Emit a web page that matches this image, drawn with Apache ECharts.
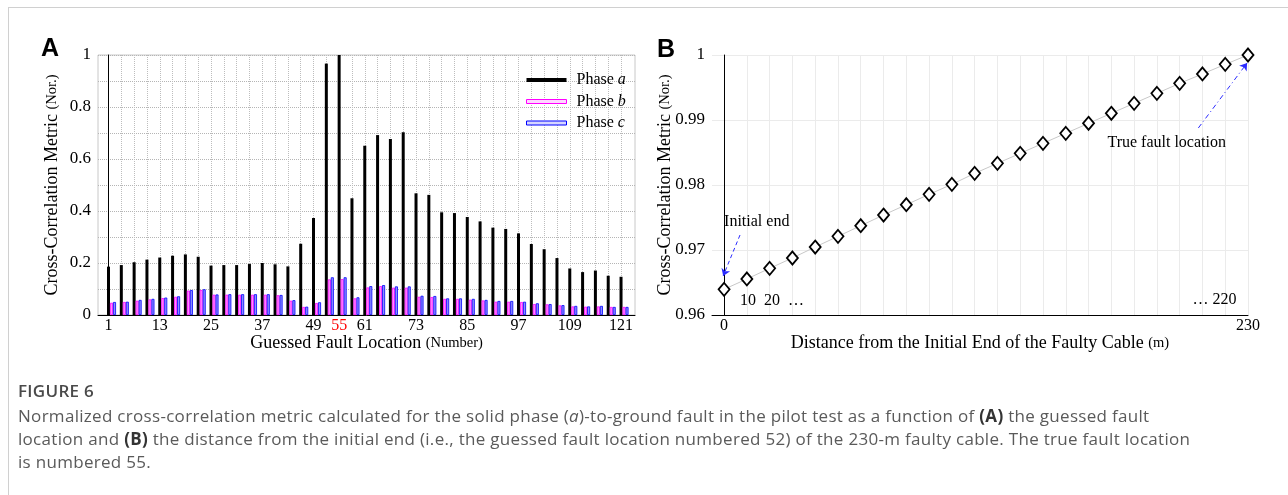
<!DOCTYPE html>
<html><head><meta charset="utf-8">
<script src="https://cdn.jsdelivr.net/npm/echarts@6/dist/echarts.min.js"></script>
<style>
html,body{margin:0;padding:0;background:#fff;width:1288px;height:495px;overflow:hidden;position:relative;}
#frame{position:absolute;left:8px;top:7px;width:1300px;height:500px;border-left:1px solid #d0d0d0;border-top:1px solid #d0d0d0;}
#chart{position:absolute;left:0;top:0;width:1288px;height:495px;}
#cap{position:absolute;left:18px;top:380px;font-family:'Open Sans',sans-serif;color:#5a5a5a;white-space:nowrap;}
#cap .t{font-size:17px;font-weight:600;line-height:22px;color:#4a4a4a;letter-spacing:0.3px;}
#cap .b{font-size:17px;line-height:23px;margin-top:2px;letter-spacing:0.3px;}
#cap b{font-weight:700;color:#333;}
</style></head>
<body>
<div id="frame"></div>
<div id="chart"></div>
<div id="cap">
<div class="t">FIGURE 6</div>
<div class="b">Normalized cross-correlation metric calculated for the solid phase (<i>a</i>)-to-ground fault in the pilot test as a function of <b>(A)</b> the guessed fault<br>location and <b>(B)</b> the distance from the initial end (i.e., the guessed fault location numbered 52) of the 230-m faulty cable. The true fault location<br>is numbered 55.</div>
</div>
<script>
// ---- Panel A data ----
const locations = [1,4,7,10,13,16,19,22,25,28,31,34,37,40,43,46,49,52,55,58,61,64,67,70,73,76,79,82,85,88,91,94,97,100,103,106,109,112,115,118,121];
const phaseA = [0.186,0.192,0.203,0.213,0.221,0.228,0.233,0.224,0.190,0.192,0.192,0.196,0.200,0.195,0.187,0.274,0.373,0.967,1.000,0.449,0.651,0.692,0.677,0.703,0.468,0.462,0.395,0.392,0.377,0.360,0.336,0.331,0.314,0.273,0.253,0.219,0.179,0.165,0.171,0.151,0.147];
const phaseB = [0.047,0.050,0.055,0.060,0.065,0.070,0.094,0.096,0.078,0.078,0.078,0.078,0.078,0.076,0.055,0.031,0.046,0.137,0.138,0.064,0.106,0.111,0.105,0.105,0.070,0.069,0.062,0.062,0.059,0.056,0.051,0.051,0.050,0.042,0.041,0.037,0.033,0.032,0.033,0.031,0.031];
const phaseC = [0.050,0.051,0.058,0.062,0.067,0.072,0.096,0.099,0.079,0.080,0.080,0.080,0.080,0.077,0.057,0.032,0.049,0.145,0.145,0.068,0.111,0.115,0.110,0.110,0.074,0.073,0.064,0.064,0.062,0.058,0.054,0.054,0.051,0.045,0.042,0.038,0.035,0.033,0.035,0.031,0.031];
const labelledLocations = [1,13,25,37,49,55,61,73,85,97,109,121];
const highlightLocation = 55;
const yTicksA = [0,0.2,0.4,0.6,0.8,1];
// ---- Panel B data ----
const distances = [0,10,20,30,40,50,60,70,80,90,100,110,120,130,140,150,160,170,180,190,200,210,220,230];
const metricB = [0.96395,0.96554,0.96718,0.96877,0.97046,0.97210,0.97374,0.97538,0.97697,0.97856,0.98010,0.98179,0.98333,0.98487,0.98641,0.98795,0.98949,0.99103,0.99256,0.99410,0.99564,0.99708,0.99856,1.00000];
const xLabelsB = [0,230];

const serif = "'Liberation Serif','Times New Roman',serif";
const idx = locations.map((_, i) => i);
const labelIdx = labelledLocations.map(n => locations.indexOf(n));

const chart = echarts.init(document.getElementById('chart'), null, {renderer:'canvas'});

const barItem = (fill, border) => ({color: fill, borderColor: border || fill, borderWidth: border ? 0.8 : 0});
const nameRich = {a: {fontFamily: serif, fontSize: 18, color:'#000'}, b: {fontFamily: serif, fontSize: 14.5, color:'#000'}};

const option = {
  animation: false,
  backgroundColor: 'transparent',
  textStyle: {fontFamily: serif},
  graphic: [
    {type:'text', x:41, y:49, style:{text:'A', font:"bold 25px 'Liberation Sans'", fill:'#000', verticalAlign:'middle'}},
    {type:'text', x:657, y:50, style:{text:'B', font:"bold 25px 'Liberation Sans'", fill:'#000', verticalAlign:'middle'}}
  ],
  legend: {
    orient: 'vertical', left: 521, top: 67, itemWidth: 40, itemHeight: 4, itemGap: 5.5,
    icon: 'rect',
    data: [
      {name:'Phase a', itemStyle:{color:'#000', borderWidth:0}},
      {name:'Phase b', itemStyle:{color:'#ffd6ff', borderColor:'#ff00ff', borderWidth:1}},
      {name:'Phase c', itemStyle:{color:'#d6d6ff', borderColor:'#0000ff', borderWidth:1}}
    ],
    formatter: n => '{t|Phase }{i|' + n.slice(-1) + '}',
    textStyle: {
      rich: {
        t: {fontFamily: serif, fontSize: 16, color:'#000', padding:[0,0,0,5]},
        i: {fontFamily: serif, fontSize: 16, color:'#000', fontStyle:'italic'}
      }
    }
  },
  grid: [
    {left: 98, right: 653, top: 55, bottom: 180, show: true, borderColor: '#c8c8c8', borderWidth: 1, backgroundColor:'transparent'},
    {left: 712, right: 40, top: 55, bottom: 180}
  ],
  xAxis: [
    {
      type: 'value', gridIndex: 0, min: -0.82, max: 41.09,
      axisLine: {onZero: false, lineStyle: {color: '#000', width: 1}},
      axisTick: {show: false, customValues: idx},
      axisLabel: {
        margin: 3, fontFamily: serif, fontSize: 16, color: '#000',
        customValues: labelIdx,
        formatter: v => {
          const n = locations[Math.round(v)];
          return n === highlightLocation ? '{r|' + n + '}' : String(n);
        },
        rich: {r: {color: '#ff0000', fontFamily: serif, fontSize: 16}}
      },
      splitLine: {show: true, lineStyle: {color: '#bdbdbd', type: 'dotted', width: 1}},
      name: '{a|Guessed Fault Location }{b|(Number)}',
      nameLocation: 'middle', nameGap: 19, nameMoveOverlap: false,
      nameTextStyle: {rich: nameRich}
    },
    {type: 'value', gridIndex: 0, min: -1.054, max: 40.856, show: false},
    {
      type: 'value', gridIndex: 1, min: -5.3, max: 230,
      axisLine: {onZero: false, lineStyle: {color: '#000', width: 1}},
      axisTick: {show: false, customValues: distances},
      axisLabel: {
        margin: 3, fontFamily: serif, fontSize: 16, color: '#000',
        customValues: xLabelsB,
        formatter: v => String(v)
      },
      splitLine: {show: true, lineStyle: {color: '#ebebeb', width: 1}},
      name: '{a|Distance from the Initial End of the Faulty Cable }{b|(m)}',
      nameLocation: 'middle', nameGap: 19, nameMoveOverlap: false,
      nameTextStyle: {rich: nameRich}
    }
  ],
  yAxis: [
    {
      type: 'value', gridIndex: 0, min: 0, max: 1, interval: 0.1,
      axisLine: {show: true, lineStyle: {color: '#000', width: 1}},
      axisTick: {show: false},
      axisLabel: {
        margin: 7, fontFamily: serif, fontSize: 17, color: '#000',
        formatter: v => {
          const r = Math.round(v * 10) / 10;
          return yTicksA.some(t => Math.abs(t - r) < 1e-6) ? String(r) : '';
        }
      },
      splitLine: {show: true, lineStyle: {color: '#b5b5b5', type: 'dotted', width: 1}},
      name: '{a|Cross-Correlation Metric }{b|(Nor.)}',
      nameLocation: 'middle', nameGap: 37, nameMoveOverlap: false,
      nameTextStyle: {rich: nameRich}
    },
    {
      type: 'value', gridIndex: 1, min: 0.96, max: 1, interval: 0.01,
      axisLine: {show: true, lineStyle: {color: '#000', width: 1}},
      axisTick: {show: false},
      axisLabel: {
        margin: 7, fontFamily: serif, fontSize: 17, color: '#000',
        formatter: v => Math.abs(v - 1) < 1e-9 ? '1' : v.toFixed(2)
      },
      splitLine: {show: true, lineStyle: {color: '#ebebeb', width: 1}},
      name: '{a|Cross-Correlation Metric }{b|(Nor.)}',
      nameLocation: 'middle', nameGap: 38, nameMoveOverlap: false,
      nameTextStyle: {rich: nameRich}
    }
  ],
  series: [
    {name:'Phase a', type:'bar', xAxisIndex:1, yAxisIndex:0, barWidth:3, barGap:'0%',
     itemStyle: barItem('#000', null), data: phaseA.map((v,i)=>[i,v])},
    {name:'Phase b', type:'bar', xAxisIndex:1, yAxisIndex:0, barWidth:3, barGap:'0%',
     itemStyle: barItem('#ff8cff', '#ff00ff'), data: phaseB.map((v,i)=>[i,v])},
    {name:'Phase c', type:'bar', xAxisIndex:1, yAxisIndex:0, barWidth:3, barGap:'0%',
     itemStyle: barItem('#8c8cff', '#0000ff'), data: phaseC.map((v,i)=>[i,v])},
    {
      name:'metric', type:'line', xAxisIndex:2, yAxisIndex:1,
      data: distances.map((d,i)=>[d, metricB[i]]),
      symbol:'diamond', symbolSize:[11,13], z:5,
      itemStyle:{color:'#fff', borderColor:'#000', borderWidth:1.8},
      lineStyle:{color:'#c8c8c8', width:1},
      markLine: {
        silent: true, symbol: ['none','arrow'], symbolSize: 7, animation:false,
        label: {show:false},
        data: [
          [{coord:[7,0.97231], lineStyle:{color:'#2b2bff', type:[4,3], width:1}}, {coord:[-0.4,0.9660]}],
          [{coord:[208.2,0.98877], lineStyle:{color:'#2b2bff', type:[5,3,1,3], width:1}}, {coord:[229.6,0.99877]}]
        ]
      },
      markPoint: {
        silent: true, symbol:'circle', symbolSize:0, animation:false,
        label: {show:true, fontFamily: serif, fontSize:16, color:'#000', distance:0},
        data: [
          {coord:[0,0.97431], label:{position:'right', formatter:'Initial end'}},
          {coord:[7,0.9622], label:{position:'right', formatter:'10  20  \u2026'}},
          {coord:[224.9,0.9623], label:{position:'left', formatter:'\u2026 220'}},
          {coord:[194.3,0.98642], label:{position:'inside', formatter:'True fault location'}}
        ]
      }
    }
  ]
};
chart.setOption(option);
</script>
</body></html>
